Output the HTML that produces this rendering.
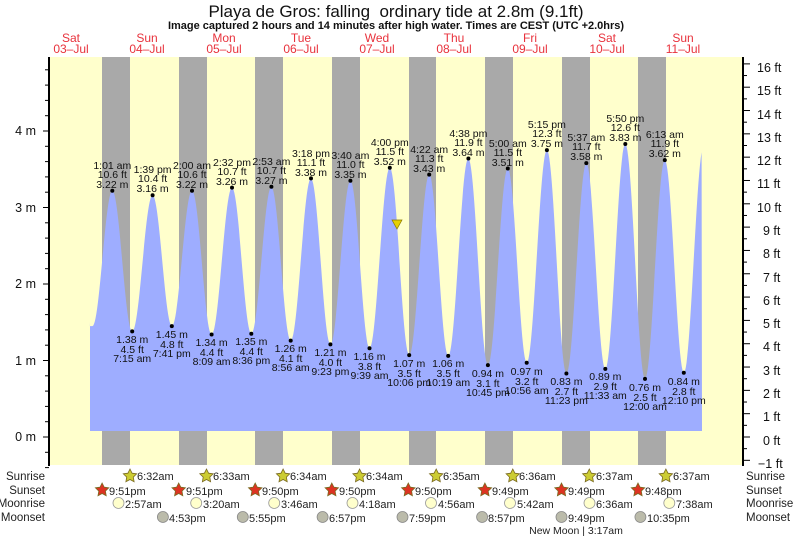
<!DOCTYPE html>
<html><head><meta charset="utf-8"><style>
body{margin:0;background:#fff}
svg{display:block;font-family:"Liberation Sans",sans-serif}
.hl text,.lw text{font-size:10.5px;text-anchor:middle;fill:#111}
.ev{font-size:11px;fill:#222}
</style></head><body>
<svg id="s" width="793" height="539" viewBox="0 0 793 539">
<rect x="49" y="57" width="694" height="408" fill="#ffffcc"/>
<g fill="#a9a9a9">
<rect x="102" y="57" width="28" height="408"/><rect x="179" y="57" width="28" height="408"/>
<rect x="255" y="57" width="28" height="408"/><rect x="332" y="57" width="28" height="408"/>
<rect x="409" y="57" width="27" height="408"/><rect x="485" y="57" width="28" height="408"/>
<rect x="562" y="57" width="28" height="408"/><rect x="638" y="57" width="28" height="408"/>
</g>
<path id="tide" fill="#9eadff" d=""/>
<line x1="49" y1="57" x2="49" y2="466" stroke="#000" stroke-width="2"/>
<line x1="743" y1="57" x2="743" y2="466" stroke="#000" stroke-width="2"/>
<g id="ticks" stroke="#000"></g>
<g font-size="12.5" text-anchor="end" fill="#111">
<text x="36" y="135">4 m</text><text x="36" y="212">3 m</text><text x="36" y="288">2 m</text><text x="36" y="365">1 m</text><text x="36" y="441">0 m</text>
</g>
<g font-size="12.5" fill="#111">
<text x="758" y="468">−1 ft</text><text x="763" y="445">0 ft</text><text x="763" y="421">1 ft</text><text x="763" y="398">2 ft</text><text x="763" y="375">3 ft</text><text x="763" y="351">4 ft</text><text x="763" y="328">5 ft</text><text x="763" y="305">6 ft</text><text x="763" y="282">7 ft</text><text x="763" y="258">8 ft</text><text x="763" y="235">9 ft</text><text x="757" y="212">10 ft</text><text x="757" y="188">11 ft</text><text x="757" y="165">12 ft</text><text x="757" y="142">13 ft</text><text x="757" y="119">14 ft</text><text x="757" y="95">15 ft</text><text x="757" y="72">16 ft</text>
</g>
<text x="396" y="17" font-size="17" text-anchor="middle" fill="#111">Playa de Gros: falling&#160; ordinary tide at 2.8m (9.1ft)</text>
<text x="396" y="29" font-size="11" font-weight="bold" text-anchor="middle" fill="#111">Image captured 2 hours and 14 minutes after high water. Times are CEST (UTC +2.0hrs)</text>
<g font-size="12" text-anchor="middle" fill="#e8323c">
<text x="71" y="42">Sat</text><text x="71" y="53">03–Jul</text>
<text x="147" y="42">Sun</text><text x="147" y="53">04–Jul</text>
<text x="224" y="42">Mon</text><text x="224" y="53">05–Jul</text>
<text x="301" y="42">Tue</text><text x="301" y="53">06–Jul</text>
<text x="377" y="42">Wed</text><text x="377" y="53">07–Jul</text>
<text x="454" y="42">Thu</text><text x="454" y="53">08–Jul</text>
<text x="530" y="42">Fri</text><text x="530" y="53">09–Jul</text>
<text x="607" y="42">Sat</text><text x="607" y="53">10–Jul</text>
<text x="683" y="42">Sun</text><text x="683" y="53">11–Jul</text>
</g>
<g class="hl">
<circle cx="112.3" cy="190.7" r="2"/><text x="112.3" y="188">3.22 m</text><text x="112.3" y="178">10.6 ft</text><text x="112.3" y="169">1:01 am</text>
<circle cx="152.6" cy="195.3" r="2"/><text x="152.6" y="192">3.16 m</text><text x="152.6" y="182">10.4 ft</text><text x="152.6" y="173">1:39 pm</text>
<circle cx="192" cy="190.7" r="2"/><text x="192" y="188">3.22 m</text><text x="192" y="178">10.6 ft</text><text x="192" y="169">2:00 am</text>
<circle cx="232" cy="187.6" r="2"/><text x="232" y="185">3.26 m</text><text x="232" y="175">10.7 ft</text><text x="232" y="166">2:32 pm</text>
<circle cx="271.4" cy="186.8" r="2"/><text x="271.4" y="184">3.27 m</text><text x="271.4" y="174">10.7 ft</text><text x="271.4" y="165">2:53 am</text>
<circle cx="311" cy="178.4" r="2"/><text x="311" y="176">3.38 m</text><text x="311" y="166">11.1 ft</text><text x="311" y="157">3:18 pm</text>
<circle cx="350.4" cy="180.7" r="2"/><text x="350.4" y="178">3.35 m</text><text x="350.4" y="168">11.0 ft</text><text x="350.4" y="159">3:40 am</text>
<circle cx="389.8" cy="167.7" r="2"/><text x="389.8" y="165">3.52 m</text><text x="389.8" y="155">11.5 ft</text><text x="389.8" y="146">4:00 pm</text>
<circle cx="429.2" cy="174.6" r="2"/><text x="429.2" y="172">3.43 m</text><text x="429.2" y="162">11.3 ft</text><text x="429.2" y="153">4:22 am</text>
<circle cx="468.4" cy="158.5" r="2"/><text x="468.4" y="156">3.64 m</text><text x="468.4" y="146">11.9 ft</text><text x="468.4" y="137">4:38 pm</text>
<circle cx="507.8" cy="168.5" r="2"/><text x="507.8" y="166">3.51 m</text><text x="507.8" y="156">11.5 ft</text><text x="507.8" y="147">5:00 am</text>
<circle cx="546.9" cy="150.1" r="2"/><text x="546.9" y="147">3.75 m</text><text x="546.9" y="137">12.3 ft</text><text x="546.9" y="128">5:15 pm</text>
<circle cx="586.3" cy="163.1" r="2"/><text x="586.3" y="160">3.58 m</text><text x="586.3" y="150">11.7 ft</text><text x="586.3" y="141">5:37 am</text>
<circle cx="625.3" cy="144" r="2"/><text x="625.3" y="141">3.83 m</text><text x="625.3" y="131">12.6 ft</text><text x="625.3" y="122">5:50 pm</text>
<circle cx="664.8" cy="160.1" r="2"/><text x="664.8" y="157">3.62 m</text><text x="664.8" y="147">11.9 ft</text><text x="664.8" y="138">6:13 am</text>
</g>
<g class="lw">
<circle cx="132.2" cy="331.4" r="2"/><text x="132.2" y="343">1.38 m</text><text x="132.2" y="353">4.5 ft</text><text x="132.2" y="362">7:15 am</text>
<circle cx="171.8" cy="326.1" r="2"/><text x="171.8" y="338">1.45 m</text><text x="171.8" y="348">4.8 ft</text><text x="171.8" y="357">7:41 pm</text>
<circle cx="211.6" cy="334.5" r="2"/><text x="211.6" y="346">1.34 m</text><text x="211.6" y="356">4.4 ft</text><text x="211.6" y="365">8:09 am</text>
<circle cx="251.3" cy="333.7" r="2"/><text x="251.3" y="345">1.35 m</text><text x="251.3" y="355">4.4 ft</text><text x="251.3" y="364">8:36 pm</text>
<circle cx="290.7" cy="340.6" r="2"/><text x="290.7" y="352">1.26 m</text><text x="290.7" y="362">4.1 ft</text><text x="290.7" y="371">8:56 am</text>
<circle cx="330.4" cy="344.4" r="2"/><text x="330.4" y="356">1.21 m</text><text x="330.4" y="366">4.0 ft</text><text x="330.4" y="375">9:23 pm</text>
<circle cx="369.5" cy="348.3" r="2"/><text x="369.5" y="360">1.16 m</text><text x="369.5" y="370">3.8 ft</text><text x="369.5" y="379">9:39 am</text>
<circle cx="409.2" cy="355.1" r="2"/><text x="409.2" y="367">1.07 m</text><text x="409.2" y="377">3.5 ft</text><text x="409.2" y="386">10:06 pm</text>
<circle cx="448.2" cy="355.9" r="2"/><text x="448.2" y="367">1.06 m</text><text x="448.2" y="377">3.5 ft</text><text x="448.2" y="386">10:19 am</text>
<circle cx="487.9" cy="365.1" r="2"/><text x="487.9" y="377">0.94 m</text><text x="487.9" y="387">3.1 ft</text><text x="487.9" y="396">10:45 pm</text>
<circle cx="526.7" cy="362.8" r="2"/><text x="526.7" y="375">0.97 m</text><text x="526.7" y="385">3.2 ft</text><text x="526.7" y="394">10:56 am</text>
<circle cx="566.4" cy="373.5" r="2"/><text x="566.4" y="385">0.83 m</text><text x="566.4" y="395">2.7 ft</text><text x="566.4" y="404">11:23 pm</text>
<circle cx="605.3" cy="368.9" r="2"/><text x="605.3" y="380">0.89 m</text><text x="605.3" y="390">2.9 ft</text><text x="605.3" y="399">11:33 am</text>
<circle cx="645" cy="378.9" r="2"/><text x="645" y="391">0.76 m</text><text x="645" y="401">2.5 ft</text><text x="645" y="410">12:00 am</text>
<circle cx="683.8" cy="372.7" r="2"/><text x="683.8" y="385">0.84 m</text><text x="683.8" y="395">2.8 ft</text><text x="683.8" y="404">12:10 pm</text>
</g>
<polygon points="392,220 402,220 397,229" fill="#e6d000" stroke="#887700" stroke-width="0.7"/>
<g font-size="11.5" fill="#222" text-anchor="end">
<text x="45" y="480">Sunrise</text><text x="45" y="494">Sunset</text><text x="45" y="507">Moonrise</text><text x="45" y="521">Moonset</text>
</g>
<g font-size="11.5" fill="#222">
<text x="746" y="480">Sunrise</text><text x="746" y="494">Sunset</text><text x="746" y="507">Moonrise</text><text x="746" y="521">Moonset</text>
</g>
<g id="icons"></g>
<g class="ev">
<text x="137" y="480">6:32am</text><text x="213" y="480">6:33am</text><text x="290" y="480">6:34am</text><text x="366" y="480">6:34am</text><text x="443" y="480">6:35am</text><text x="519" y="480">6:36am</text><text x="596" y="480">6:37am</text><text x="673" y="480">6:37am</text>
<text x="109" y="495">9:51pm</text><text x="186" y="495">9:51pm</text><text x="262" y="495">9:50pm</text><text x="339" y="495">9:50pm</text><text x="415" y="495">9:50pm</text><text x="492" y="495">9:49pm</text><text x="568" y="495">9:49pm</text><text x="645" y="495">9:48pm</text>
<text x="125" y="508">2:57am</text><text x="203" y="508">3:20am</text><text x="281" y="508">3:46am</text><text x="359" y="508">4:18am</text><text x="438" y="508">4:56am</text><text x="517" y="508">5:42am</text><text x="596" y="508">6:36am</text><text x="676" y="508">7:38am</text>
<text x="169" y="522">4:53pm</text><text x="249" y="522">5:55pm</text><text x="329" y="522">6:57pm</text><text x="409" y="522">7:59pm</text><text x="488" y="522">8:57pm</text><text x="568" y="522">9:49pm</text><text x="647" y="522">10:35pm</text>
<text x="576" y="534" font-size="10.5" text-anchor="middle">New Moon | 3:17am</text>
</g>
</svg>
<script>
var X=function(t){return 32.5+3.19*t},Y=function(m){return 437-76.5*m};
var ex=[[18.8,1.45],[25.02,3.22],[31.25,1.38],[37.65,3.16],[43.68,1.45],[50,3.22],[56.15,1.34],[62.53,3.26],[68.6,1.35],[74.88,3.27],[80.93,1.26],[87.3,3.38],[93.38,1.21],[99.67,3.35],[105.65,1.16],[112,3.52],[118.1,1.07],[124.37,3.43],[130.32,1.06],[136.63,3.64],[142.75,0.94],[149,3.51],[154.93,0.97],[161.25,3.75],[167.38,0.83],[173.62,3.58],[179.55,0.89],[185.83,3.83],[192,0.76],[198.22,3.62],[204.17,0.84],[210.4,3.8]];
function h(t){for(var i=0;i<ex.length-1;i++){var a=ex[i],b=ex[i+1];if(t>=a[0]&&t<=b[0]){var f=(t-a[0])/(b[0]-a[0]);return a[1]+(b[1]-a[1])*(1-Math.cos(Math.PI*f))/2;}}return ex[0][1];}
var d="M90,431 L90,"+Y(1.5).toFixed(1);
for(var t=18;t<=209.9;t+=0.25){d+=" L"+X(t).toFixed(1)+","+Y(h(t)).toFixed(1);}
d+=" L702,431 Z";document.getElementById("tide").setAttribute("d",d);
var tk="";
for(var m=-0.4;m<=5.21;m+=0.2){var y=Y(m);if(y<57)continue;var maj=Math.abs(m-Math.round(m))<0.01;tk+='<line x1="'+(maj?43:45)+'" y1="'+y+'" x2="49" y2="'+y+'"/>';}
for(var f=-1;f<=16.01;f+=0.5){var y=437-23.32*f;var maj=Math.abs(f-Math.round(f))<0.01;tk+='<line x1="743" y1="'+y+'" x2="'+(maj?750:747)+'" y2="'+y+'"/>';}
document.getElementById("ticks").innerHTML=tk;
function star(cx,cy,r,fill){var p=[];for(var i=0;i<10;i++){var a=-Math.PI/2+i*Math.PI/5,rr=i%2?r*0.5:r;p.push((cx+rr*Math.cos(a)).toFixed(1)+","+(cy+rr*Math.sin(a)).toFixed(1));}return '<polygon points="'+p.join(" ")+'" fill="'+fill+'" stroke="#7a6a20" stroke-width="0.8"/>';}
var ic="";
[130,206.5,283.1,359.6,436.2,512.8,589.3,665.9].forEach(function(x){ic+=star(x,476,7,"#cccc33");});
[102.1,178.7,255.2,331.8,408.3,484.9,561.5,638].forEach(function(x){ic+=star(x,490,7,"#dd3322");});
[118.5,196.2,274.2,352.5,431,510,589.5,669.3].forEach(function(x){ic+='<circle cx="'+x+'" cy="503" r="5.5" fill="#ffffcc" stroke="#999" stroke-width="0.8"/>';});
[162.9,242.8,322.6,402.5,482.1,561.5,640.4].forEach(function(x){ic+='<circle cx="'+x+'" cy="517" r="5.5" fill="#bbbbaa" stroke="#888" stroke-width="0.8"/>';});
document.getElementById("icons").innerHTML=ic;
</script>
</body></html>
